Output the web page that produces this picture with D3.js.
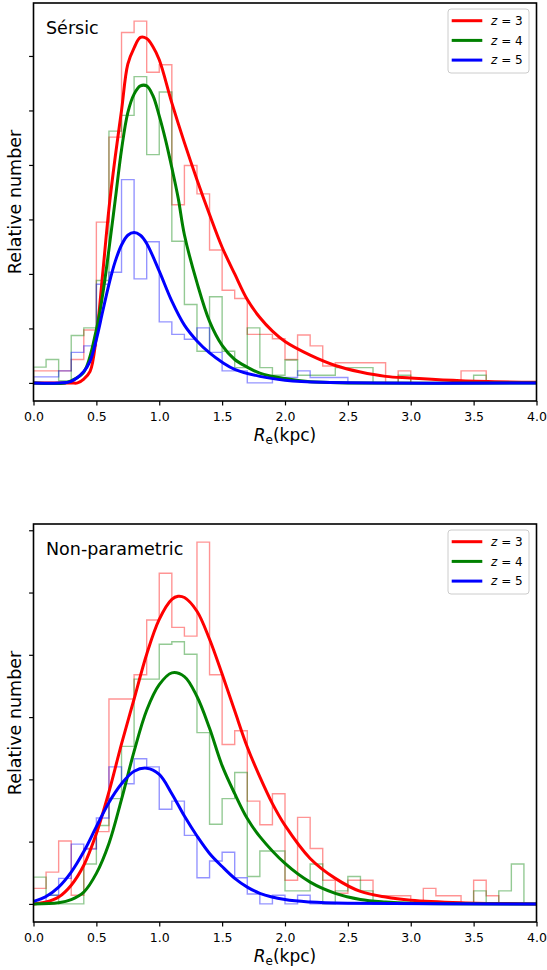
<!DOCTYPE html>
<html>
<head>
<meta charset="utf-8" />
<title>Re distributions</title>
<script src="https://cdnjs.cloudflare.com/ajax/libs/d3/7.8.5/d3.min.js"></script>
<style>
  body { margin: 0; background: #fff; }
  text { font-family: "DejaVu Sans", sans-serif; }
</style>
</head>
<body>
<svg id="fig" width="547" height="970"></svg>
<script>
// bin edges in kpc
const binEdges = [0.0, 0.1, 0.2, 0.3, 0.4, 0.5, 0.6, 0.7, 0.8, 0.9, 1.0, 1.1, 1.2, 1.3, 1.4, 1.5, 1.6, 1.7, 1.8, 1.9,
  2.0, 2.1, 2.2, 2.3, 2.4, 2.5, 2.6, 2.7, 2.8, 2.9, 3.0, 3.1, 3.2, 3.3, 3.4, 3.5, 3.6, 3.7, 3.8, 3.9, 4.0]

// Sersic histograms (relative number per bin)
const sersicHistZ3 = [0.22, 0.22, 0.22, 0.43, 0.97, 2.95, 4.51, 6.43, 6.64, 5.70, 5.84, 3.27, 3.99, 3.47, 2.44, 1.70, 1.55, 0.89, 0.89, 0.81,
  0.43, 0.88, 0.68, 0.31, 0.37, 0.37, 0.37, 0.37, 0, 0.22, 0, 0, 0, 0, 0.22, 0.22, 0, 0, 0, 0]
const sersicHistZ4 = [0.29, 0.43, 0.04, 0.87, 1.01, 1.88, 4.62, 4.91, 5.62, 4.19, 5.34, 2.60, 1.44, 0.58, 1.58, 0.58, 0.28, 1.01, 0.28, 0.14,
  0.42, 0.14, 0.14, 0.14, 0.28, 0.28, 0.28, 0, 0, 0.14, 0, 0, 0, 0, 0, 0.14, 0, 0, 0, 0]
const sersicHistZ5 = [0.11, 0.11, 0.22, 0.56, 0.68, 1.81, 2.03, 3.73, 1.91, 2.59, 1.12, 0.89, 0.80, 1.01, 0.56, 0.22, 0.22, 0, 0, 0.10,
  0.10, 0.22, 0.10, 0.10, 0.10, 0, 0, 0, 0, 0, 0, 0, 0, 0, 0, 0, 0, 0, 0, 0]

// Non-parametric histograms
const nonparHistZ3 = [0.25, 0.51, 1.01, 0.14, 0.89, 1.16, 3.29, 3.29, 3.68, 4.56, 5.31, 4.44, 4.30, 5.81, 3.68, 2.56, 2.78, 1.65, 1.27, 1.77,
  0.38, 1.39, 0.89, 0.38, 0.17, 0.38, 0.38, 0.13, 0.13, 0.13, 0, 0.25, 0.13, 0.13, 0, 0.38, 0.13, 0, 0, 0]
const nonparHistZ4 = [0.43, 0.14, 0, 0, 0.64, 1.26, 1.69, 2.53, 3.61, 3.61, 4.17, 4.21, 4.01, 2.75, 1.28, 1.69, 2.11, 0.44, 0.85, 0.85,
  0.21, 0.21, 0.64, 0, 0.21, 0.44, 0.21, 0, 0, 0, 0, 0, 0, 0, 0, 0.21, 0, 0.21, 0.64, 0]
const nonparHistZ5 = [0, 0.14, 0.41, 0.96, 0.88, 1.38, 2.20, 1.93, 2.33, 2.20, 1.52, 1.65, 1.10, 0.42, 0.69, 0.83, 0.42, 0.16, 0, 0.14,
  0, 0.14, 0, 0, 0, 0, 0, 0, 0, 0, 0, 0, 0, 0, 0, 0, 0, 0, 0, 0]

// fitted distributions, [Re, value]
const sersicFitZ3 = [[0, 0], [0.3, 0], [0.35, 0.0], [0.4, 0.07], [0.45, 0.21], [0.5, 0.85], [0.55, 2.0], [0.6, 3.2], [0.65, 4.15],
  [0.7, 5.0], [0.75, 5.85], [0.8, 6.15], [0.85, 6.34], [0.9, 6.32], [0.95, 6.17], [1.0, 5.93], [1.1, 5.14], [1.2, 4.41], [1.3, 3.73],
  [1.4, 3.09], [1.5, 2.49], [1.6, 2.0], [1.7, 1.53], [1.8, 1.2], [1.9, 0.95], [2.0, 0.76], [2.2, 0.51], [2.4, 0.32], [2.6, 0.2],
  [2.8, 0.12], [3.0, 0.09], [3.4, 0.04], [4.0, 0.01]]
const sersicFitZ4 = [[0, 0], [0.25, 0], [0.3, 0.04], [0.4, 0.2], [0.5, 0.98], [0.55, 1.62], [0.6, 2.45], [0.65, 3.36], [0.7, 4.28],
  [0.75, 4.96], [0.8, 5.3], [0.85, 5.45], [0.9, 5.45], [0.95, 5.27], [1.0, 4.9], [1.05, 4.46], [1.1, 3.95], [1.15, 3.4], [1.2, 2.72],
  [1.3, 1.84], [1.4, 1.13], [1.5, 0.69], [1.6, 0.43], [1.7, 0.29], [1.8, 0.18], [2.0, 0.08], [2.2, 0.02], [2.5, 0], [4.0, 0]]
const sersicFitZ5 = [[0, 0], [0.2, 0], [0.3, 0.03], [0.4, 0.21], [0.45, 0.4], [0.5, 0.8], [0.55, 1.31], [0.6, 1.81], [0.65, 2.23],
  [0.7, 2.53], [0.75, 2.71], [0.8, 2.76], [0.85, 2.71], [0.9, 2.56], [1.0, 2.05], [1.1, 1.5], [1.2, 1.06], [1.3, 0.77], [1.4, 0.55],
  [1.5, 0.38], [1.6, 0.25], [1.8, 0.12], [2.0, 0.05], [2.3, 0.01], [4.0, 0]]

const nonparFitZ3 = [[0, 0], [0.1, 0.03], [0.2, 0.11], [0.3, 0.3], [0.4, 0.62], [0.5, 1.13], [0.6, 1.8], [0.7, 2.57], [0.8, 3.29],
  [0.9, 4.01], [1.0, 4.57], [1.1, 4.89], [1.15, 4.94], [1.2, 4.92], [1.3, 4.7], [1.4, 4.25], [1.5, 3.69], [1.6, 3.1], [1.7, 2.52],
  [1.8, 2.04], [1.9, 1.61], [2.0, 1.26], [2.2, 0.73], [2.4, 0.41], [2.6, 0.2], [2.8, 0.11], [3.0, 0.06], [3.4, 0.02], [4.0, 0]]
const nonparFitZ4 = [[0, 0], [0.2, 0.02], [0.3, 0.07], [0.4, 0.19], [0.5, 0.49], [0.6, 0.97], [0.7, 1.68], [0.8, 2.45], [0.9, 3.11],
  [1.0, 3.52], [1.1, 3.71], [1.2, 3.65], [1.3, 3.33], [1.4, 2.82], [1.5, 2.22], [1.6, 1.77], [1.7, 1.37], [1.8, 1.08], [2.0, 0.65],
  [2.2, 0.35], [2.4, 0.17], [2.6, 0.07], [2.8, 0.03], [3.0, 0.01], [4.0, 0]]
const nonparFitZ5 = [[0, 0.04], [0.1, 0.12], [0.2, 0.27], [0.3, 0.51], [0.4, 0.84], [0.5, 1.24], [0.6, 1.63], [0.7, 1.93], [0.8, 2.13],
  [0.9, 2.18], [1.0, 2.08], [1.1, 1.77], [1.2, 1.41], [1.3, 1.09], [1.4, 0.81], [1.5, 0.6], [1.6, 0.41], [1.7, 0.27], [1.8, 0.17],
  [2.0, 0.07], [2.2, 0.03], [2.5, 0.01], [4.0, 0]]

const redshifts = ['3', '4', '5']
const colors = ['#ff0000', '#008000', '#0000ff']
const xTicks = [0, 0.5, 1.0, 1.5, 2.0, 2.5, 3.0, 3.5, 4.0]
const yTicks = [0, 1, 2, 3, 4, 5, 6]

const svg = d3.select('#fig')
const left = 33.5, right = 536.5

function drawPanel(top, bottom, title, hists, fits, id) {
  let x = d3.scaleLinear().domain([0, 4]).range([left, right])
  let ymax = d3.max(hists, h => d3.max(h))
  let y = d3.scaleLinear().domain([-0.05 * ymax, 1.05 * ymax]).range([bottom, top])
  let g = svg.append('g')

  g.append('clipPath').attr('id', 'clip' + id)
    .append('rect').attr('x', left).attr('y', top).attr('width', right - left).attr('height', bottom - top)

  let plot = g.append('g').attr('clip-path', 'url(#clip' + id + ')')

  // step histograms
  let step = d3.line().x(d => x(d[0])).y(d => y(d[1]))
  hists.forEach((h, i) => {
    let pts = [[binEdges[0], 0]]
    h.forEach((v, j) => { pts.push([binEdges[j], v]); pts.push([binEdges[j + 1], v]) })
    pts.push([binEdges[binEdges.length - 1], 0])
    plot.append('path').attr('d', step(pts))
      .attr('fill', 'none').attr('stroke', colors[i]).attr('stroke-opacity', 0.42).attr('stroke-width', 1.4)
  })

  // fitted curves
  let curve = d3.line().x(d => x(d[0])).y(d => y(Math.max(0, d[1]))).curve(d3.curveCatmullRom.alpha(0.5))
  fits.forEach((f, i) => {
    plot.append('path').attr('d', curve(f))
      .attr('fill', 'none').attr('stroke', colors[i]).attr('stroke-width', 3)
  })

  // axes
  let xAxis = d3.axisBottom(x).tickValues(xTicks).tickFormat(d3.format('.1f')).tickSize(4.4).tickPadding(6.5)
  let xa = g.append('g').attr('transform', 'translate(0,' + bottom + ')').call(xAxis)
  let yAxis = d3.axisLeft(y).tickValues(yTicks).tickFormat('').tickSize(4.4)
  let ya = g.append('g').attr('transform', 'translate(' + left + ',0)').call(yAxis)
  ;[xa, ya].forEach(a => {
    a.select('.domain').remove()
    a.selectAll('line').attr('stroke', '#000').attr('stroke-width', 1.2)
    a.selectAll('text').attr('fill', '#000').style('font-size', '12.5px').style('font-family', 'DejaVu Sans')
  })

  g.append('rect').attr('x', left).attr('y', top).attr('width', right - left).attr('height', bottom - top)
    .attr('fill', 'none').attr('stroke', '#000').attr('stroke-width', 1.6)

  // labels
  let xl = g.append('text').attr('x', (left + right) / 2).attr('y', bottom + 39.5)
    .attr('text-anchor', 'middle').style('font-size', '17px')
  xl.append('tspan').attr('font-style', 'italic').text('R')
  xl.append('tspan').attr('dy', 3.5).style('font-size', '12px').text('e')
  xl.append('tspan').attr('dy', -3.5).text('(kpc)')

  g.append('text').attr('transform', 'translate(21,' + (top + bottom) / 2 + ') rotate(-90)')
    .attr('text-anchor', 'middle').style('font-size', '17.5px').text('Relative number')

  g.append('text').attr('x', 46).attr('y', top + 31).style('font-size', '17.5px').text(title)

  // legend
  let lg = g.append('g').attr('transform', 'translate(448,' + (top + 6) + ')')
  lg.append('rect').attr('width', 81).attr('height', 64).attr('rx', 3)
    .attr('fill', '#fff').attr('fill-opacity', 0.8).attr('stroke', '#cccccc').attr('stroke-width', 1)
  redshifts.forEach((z, i) => {
    let ly = 11.7 + i * 19.7
    lg.append('line').attr('x1', 3.7).attr('x2', 34.3).attr('y1', ly).attr('y2', ly)
      .attr('stroke', colors[i]).attr('stroke-width', 3)
    let t = lg.append('text').attr('x', 43).attr('y', ly + 4.3).style('font-size', '12px')
    t.append('tspan').attr('font-style', 'italic').text('z')
    t.append('tspan').text(' = ' + z)
  })
}

drawPanel(3, 401, 'Sérsic', [sersicHistZ3, sersicHistZ4, sersicHistZ5], [sersicFitZ3, sersicFitZ4, sersicFitZ5], 'a')
drawPanel(524, 922, 'Non-parametric', [nonparHistZ3, nonparHistZ4, nonparHistZ5], [nonparFitZ3, nonparFitZ4, nonparFitZ5], 'b')
</script>
</body>
</html>
